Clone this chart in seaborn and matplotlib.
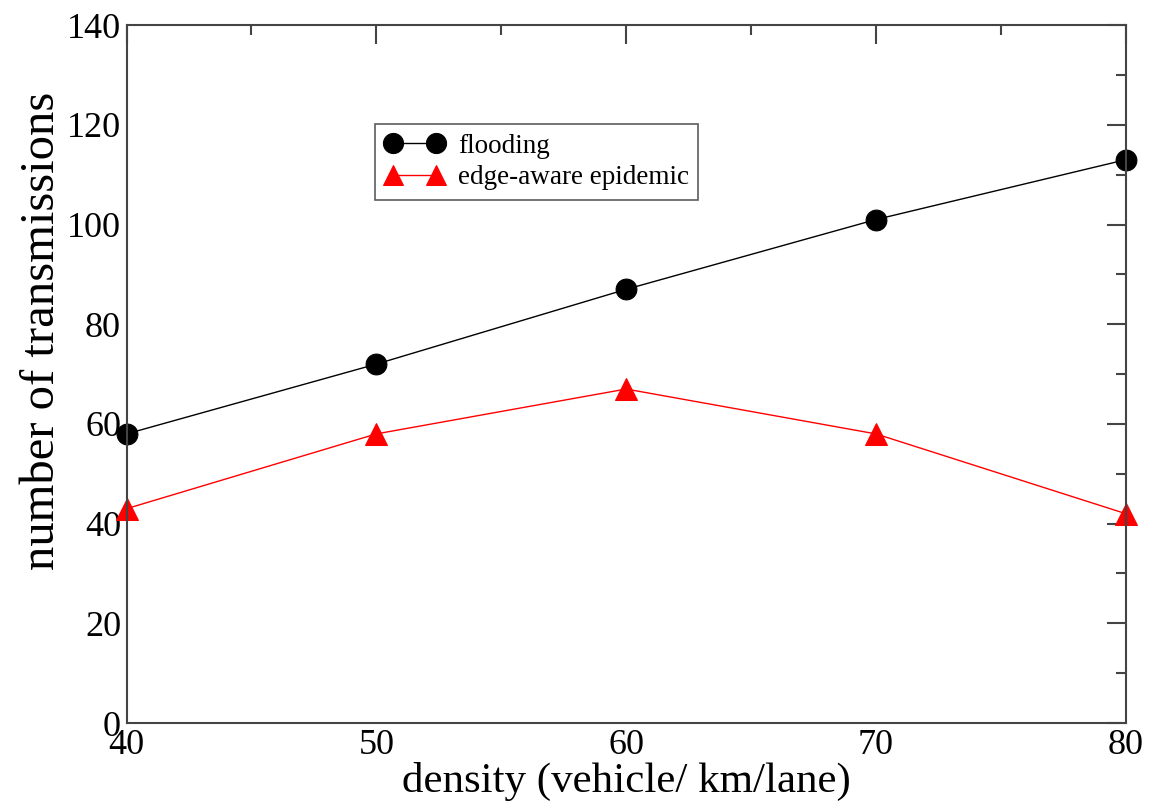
import matplotlib
matplotlib.use("Agg")
import matplotlib.pyplot as plt
import seaborn as sns
import pandas as pd
from matplotlib.ticker import MultipleLocator

sns.set_theme(style="white", rc={'text.color': 'black', 'axes.labelcolor': 'black',
                                 'xtick.color': 'black', 'ytick.color': 'black'})
plt.rcParams['font.family'] = ['Liberation Serif', 'DejaVu Serif']

# data
density = [40, 50, 60, 70, 80]
flooding = [58, 72, 87, 101, 113]
edge_aware = [43, 58, 67, 58, 42]

df = pd.DataFrame({'density': density, 'flooding': flooding, 'edge-aware epidemic': edge_aware})

fig = plt.figure(figsize=(11.51, 8.11), dpi=100)
ax = fig.add_axes([0.110, 0.1085, 0.868, 0.8605])

sns.lineplot(data=df, x='density', y='flooding', ax=ax, color='black', linewidth=1,
             marker='o', markersize=15, markeredgecolor='black', label='flooding', clip_on=False)
sns.lineplot(data=df, x='density', y='edge-aware epidemic', ax=ax, color='red', linewidth=1,
             marker='^', markersize=16, markeredgecolor='red', label='edge-aware epidemic', clip_on=False)

ax.set_xlim(40, 80)
ax.set_ylim(0, 140)
ax.xaxis.set_major_locator(MultipleLocator(10))
ax.xaxis.set_minor_locator(MultipleLocator(5))
ax.yaxis.set_major_locator(MultipleLocator(20))
ax.yaxis.set_minor_locator(MultipleLocator(10))
ax.tick_params(which='both', direction='in', top=True, right=True, width=1.5, color='#444444')
ax.tick_params(which='major', length=14, labelsize=26, pad=4)
ax.tick_params(which='minor', length=7)
for s in ax.spines.values():
    s.set_linewidth(1.5)
    s.set_color('#444444')

ax.set_xlabel('density (vehicle/ km/lane)', fontsize=31, labelpad=0)
ax.set_ylabel('number of transmissions', fontsize=35)
ax.yaxis.set_label_coords(-0.063, 0.562)

leg = ax.legend(loc='upper left', bbox_to_anchor=(0.249, 0.858), fontsize=19.5,
                frameon=True, fancybox=False, numpoints=2, handlelength=2.2, borderpad=0.35,
                labelspacing=0.25, handletextpad=0.5, borderaxespad=0)
for h in leg.legend_handles:
    h.set_markersize(14.5)
leg.get_frame().set_edgecolor('#333333')
leg.get_frame().set_linewidth(1.2)

fig.savefig('out.png', dpi=100)
